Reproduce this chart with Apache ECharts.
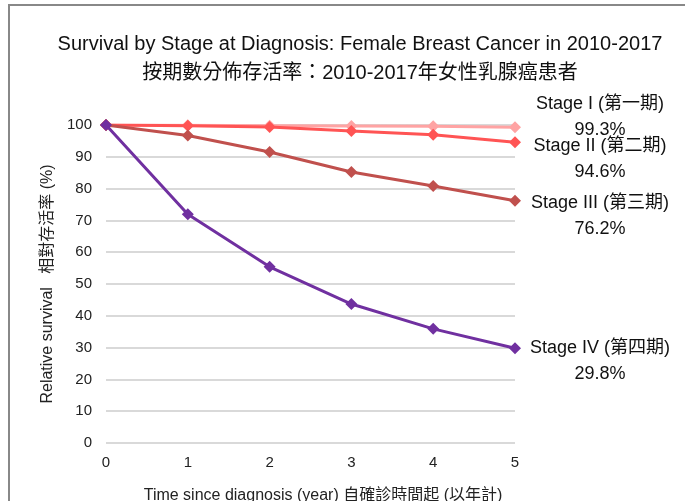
<!DOCTYPE html>
<html>
<head>
<meta charset="utf-8">
<script src="https://cdn.jsdelivr.net/npm/echarts@6/dist/echarts.min.js"></script>
<style>
  html, body { margin: 0; padding: 0; background: #fff; }
  #chart { width: 685px; height: 501px; }
</style>
</head>
<body>
<div id="chart"></div>
<script>
// years since diagnosis
var years = [0, 1, 2, 3, 4, 5]
var stageNames = ['Stage I (第一期)', 'Stage II (第二期)', 'Stage III (第三期)', 'Stage IV (第四期)']
var stage1 = [100, 99.9, 99.8, 99.7, 99.6, 99.3]
var stage2 = [100, 99.8, 99.4, 98.1, 96.9, 94.6]
var stage3 = [100, 96.7, 91.5, 85.2, 80.8, 76.2]
var stage4 = [100, 71.9, 55.4, 43.7, 35.9, 29.8]
var yTicks = [0, 10, 20, 30, 40, 50, 60, 70, 80, 90, 100]

var colors = ['#ffa3a3', '#ff5454', '#c0504d', '#7030a0']
var labelDy = [-10, 17, 15, 13]

var font = '"Liberation Sans", Arial, "Noto Sans CJK TC", sans-serif'

function makeSeries(name, values, i) {
  return {
    name: name,
    type: 'line',
    data: years.map(function (y, k) { return [y, values[k]] }),
    symbol: 'diamond',
    symbolSize: 12,
    lineStyle: { width: 3, color: colors[i] },
    itemStyle: { color: colors[i] },
    z: 2 + i,
    label: {
      show: true,
      position: 'inside',
      offset: [85, labelDy[i]],
      fontFamily: font,
      fontSize: 18,
      lineHeight: 26,
      color: '#111',
      align: 'center',
      formatter: function (p) {
        if (p.dataIndex !== years.length - 1) return ''
        return name + '\n' + p.value[1].toFixed(1) + '%'
      }
    }
  }
}

var chart = echarts.init(document.getElementById('chart'))
chart.setOption({
  animation: false,
  textStyle: { fontFamily: font },
  title: {
    text: 'Survival by Stage at Diagnosis: Female Breast Cancer in 2010-2017\n按期數分佈存活率：2010-2017年女性乳腺癌患者',
    left: 355,
    top: 25,
    textAlign: 'center',
    textStyle: { fontFamily: font, fontSize: 20, fontWeight: 'normal', color: '#111', lineHeight: 29 }
  },
  graphic: [{
    type: 'rect',
    shape: { x: 9, y: 5, width: 720, height: 600 },
    style: { fill: 'none', stroke: '#888', lineWidth: 2 },
    silent: true
  }],
  grid: { left: 106, right: 170, top: 125, bottom: 58, outerBoundsMode: 'none', containLabel: false },
  xAxis: {
    type: 'value',
    min: 0,
    max: 5,
    interval: 1,
    name: 'Time since diagnosis (year) 自確診時間起 (以年計)',
    nameLocation: 'middle',
    nameGap: 45,
    nameTextStyle: { fontFamily: font, fontSize: 16, color: '#222', padding: [0, 0, 0, 25] },
    axisLine: { show: false },
    axisTick: { show: false },
    splitLine: { show: false },
    axisLabel: { fontFamily: font, fontSize: 15, color: '#222', margin: 12 }
  },
  yAxis: {
    type: 'value',
    min: yTicks[0],
    max: yTicks[yTicks.length - 1],
    interval: 10,
    name: 'Relative survival   相對存活率 (%)',
    nameLocation: 'middle',
    nameGap: 50,
    nameTextStyle: { fontFamily: font, fontSize: 16, color: '#222' },
    axisLine: { show: false },
    axisTick: { show: false },
    splitLine: { lineStyle: { color: '#d9d9d9', width: 2 } },
    axisLabel: { fontFamily: font, fontSize: 15, color: '#222', margin: 14 }
  },
  series: [
    makeSeries(stageNames[0], stage1, 0),
    makeSeries(stageNames[1], stage2, 1),
    makeSeries(stageNames[2], stage3, 2),
    makeSeries(stageNames[3], stage4, 3)
  ]
})
</script>
</body>
</html>
